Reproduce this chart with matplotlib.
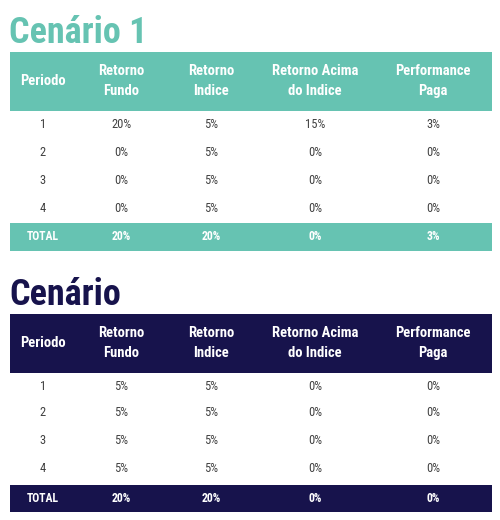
import matplotlib
matplotlib.use("Agg")
import matplotlib.pyplot as plt
from matplotlib.patches import Rectangle

FAM = ["Roboto Condensed", "Liberation Sans Narrow", "Roboto", "DejaVu Sans"]
plt.rcParams["font.family"] = FAM

# ---- data ----
columns = ["Periodo", "Retorno\nFundo", "Retorno\nIndice", "Retorno Acima\ndo Indice", "Performance\nPaga"]
periods = ["1", "2", "3", "4"]

titles = ["Cenário 1", "Cenário"]

s1_fundo = ["20%", "0%", "0%", "0%"]
s1_indice = ["5%", "5%", "5%", "5%"]
s1_acima = ["15%", "0%", "0%", "0%"]
s1_perf = ["3%", "0%", "0%", "0%"]
s1_total = ["TOTAL", "20%", "20%", "0%", "3%"]

s2_fundo = ["5%", "5%", "5%", "5%"]
s2_indice = ["5%", "5%", "5%", "5%"]
s2_acima = ["0%", "0%", "0%", "0%"]
s2_perf = ["0%", "0%", "0%", "0%"]
s2_total = ["TOTAL", "20%", "20%", "0%", "0%"]

scenario_colors = ["#66c3b2", "#17134c"]

# ---- layout (pixel space) ----
W, H = 500, 520
fig = plt.figure(figsize=(W / 100, H / 100), dpi=100)
ax = fig.add_axes([0, 0, 1, 1])
ax.set_xlim(0, W)
ax.set_ylim(H, 0)
ax.axis("off")

col_x = [43, 121, 211, 315, 433]
left, right = 10, 492

def draw_table(top_title, title, color, cols_data, total, header_top, header_bot, row_ys, total_top, total_bot):
    ax.text(left - 1, top_title, title, color=color, fontsize=26, fontweight="bold",
            ha="left", va="baseline")
    ax.add_patch(Rectangle((left, header_top), right - left, header_bot - header_top,
                           facecolor=color, edgecolor="none"))
    hc = (header_top + header_bot) / 2
    for x, c in zip(col_x, columns):
        ax.text(x, hc, c, color="white", fontsize=10.5, fontweight="bold",
                ha="center", va="center", linespacing=1.55)
    for i, y in enumerate(row_ys):
        vals = [periods[i]] + [d[i] for d in cols_data]
        for x, v in zip(col_x, vals):
            ax.text(x, y, v, color="#404040", fontsize=9, ha="center", va="center")
    ax.add_patch(Rectangle((left, total_top), right - left, total_bot - total_top,
                           facecolor=color, edgecolor="none"))
    tc = (total_top + total_bot) / 2
    for x, v in zip(col_x, total):
        ax.text(x, tc, v, color="white", fontsize=8.5, fontweight="bold",
                ha="center", va="center")

draw_table(43, titles[0], scenario_colors[0], [s1_fundo, s1_indice, s1_acima, s1_perf], s1_total,
           52, 110.5, [124, 152, 181, 209], 222.5, 250.5)
draw_table(305, titles[1], scenario_colors[1], [s2_fundo, s2_indice, s2_acima, s2_perf], s2_total,
           314, 372.5, [386, 413, 441, 469], 485, 512)

fig.savefig("out.png", dpi=100, facecolor="white")
